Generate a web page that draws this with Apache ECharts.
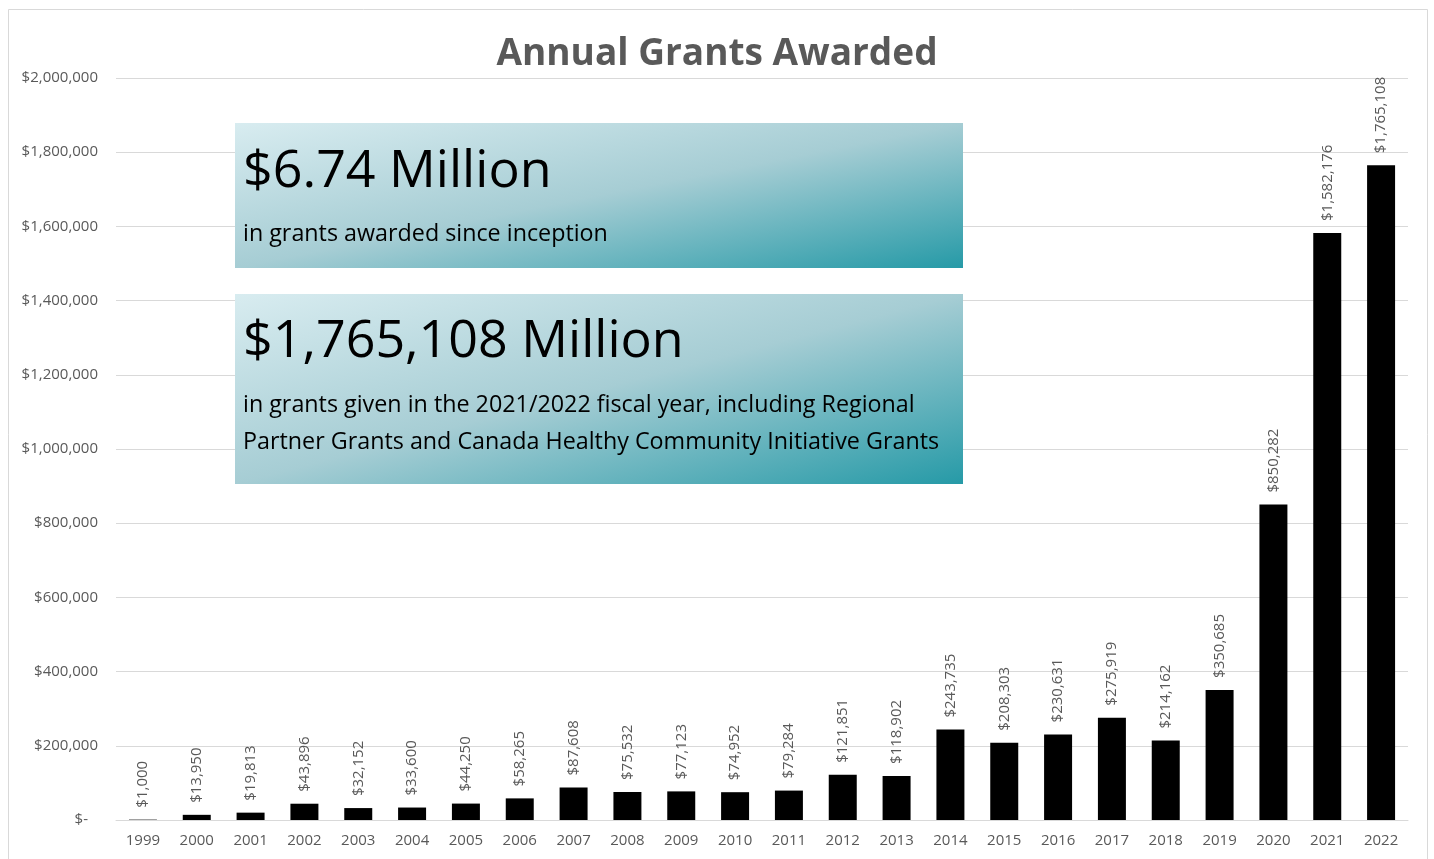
<!DOCTYPE html>
<html>
<head>
<meta charset="utf-8">
<script src="https://cdn.jsdelivr.net/npm/echarts@6/dist/echarts.min.js"></script>
<style>
html,body{margin:0;padding:0;background:#fff;}
#chart{width:1434px;height:859px;}
</style>
</head>
<body>
<div id="chart"></div>
<script>
const categories = ['1999','2000','2001','2002','2003','2004','2005','2006','2007','2008','2009','2010','2011','2012','2013','2014','2015','2016','2017','2018','2019','2020','2021','2022'];
const grants = [1000,13950,19813,43896,32152,33600,44250,58265,87608,75532,77123,74952,79284,121851,118902,243735,208303,230631,275919,214162,350685,850282,1582176,1765108];
const yTicks = [0,200000,400000,600000,800000,1000000,1200000,1400000,1600000,1800000,2000000];

const FONT = '"Open Sans", "Noto Sans", sans-serif';
const chart = echarts.init(document.getElementById('chart'));

function money(v){ return '$' + v.toLocaleString('en-US'); }

// diagonal gradient whose iso-lines run parallel to the box's anti-diagonal
function boxGrad(x, y, w, h){
  const f = 2 * w * h / (w * w + h * h);
  return {
    type: 'linear', global: true,
    x: x, y: y, x2: x + f * h, y2: y + f * w,
    colorStops: [
      {offset: 0, color: '#d8ecf0'},
      {offset: 0.5, color: '#a6cdd4'},
      {offset: 1, color: '#269aa7'}
    ]
  };
}

chart.setOption({
  backgroundColor: '#fff',
  animation: false,
  title: {
    text: 'Annual Grants Awarded',
    left: 'center',
    top: 31,
    textStyle: {fontFamily: FONT, fontSize: 37, fontWeight: 'bold', color: '#595959'}
  },
  grid: {left: 116, right: 26, top: 78, bottom: 39, containLabel: false},
  xAxis: {
    type: 'category',
    data: categories,
    axisLine: {lineStyle: {color: '#d9d9d9'}},
    axisTick: {show: false},
    axisLabel: {color: '#595959', fontFamily: FONT, fontSize: 15, margin: 13}
  },
  yAxis: {
    type: 'value',
    min: 0, max: 2000000, interval: 200000,
    axisLine: {show: false},
    axisTick: {show: false},
    splitLine: {lineStyle: {color: '#d9d9d9'}},
    axisLabel: {
      color: '#595959', fontFamily: FONT, fontSize: 15, margin: 18,
      formatter: function(v){ return v === 0 ? '{z|$-}' : money(v); },
      rich: {z: {color: '#595959', fontFamily: FONT, fontSize: 15, padding: [0, 10, 0, 0]}}
    }
  },
  series: [{
    type: 'bar',
    data: grants,
    barWidth: '52%',
    itemStyle: {color: '#000'},
    label: {
      show: true,
      position: 'top',
      rotate: 90,
      align: 'left',
      verticalAlign: 'middle',
      distance: 12,
      color: '#595959',
      fontFamily: FONT,
      fontSize: 15,
      formatter: function(p){ return money(p.value); }
    }
  }],
  graphic: [
    {type: 'rect', z: 0, silent: true, shape: {x: 8.5, y: 9.5, width: 1419, height: 860}, style: {fill: 'none', stroke: '#d9d9d9', lineWidth: 1}},
    {type: 'rect', z: 100, shape: {x: 235, y: 123, width: 728, height: 145}, style: {fill: boxGrad(235, 123, 728, 145)}},
    {type: 'text', z: 101, left: 243, top: 146, style: {text: '$6.74 Million', font: '52px ' + FONT, fill: '#000'}},
    {type: 'text', z: 101, left: 243, top: 223, style: {text: 'in grants awarded since inception', font: '23.3px ' + FONT, fill: '#000'}},
    {type: 'rect', z: 100, shape: {x: 235, y: 294, width: 728, height: 190}, style: {fill: boxGrad(235, 294, 728, 190)}},
    {type: 'text', z: 101, left: 243, top: 316, style: {text: '$1,765,108 Million', font: '52px ' + FONT, fill: '#000'}},
    {type: 'text', z: 101, left: 243, top: 394, style: {text: 'in grants given in the 2021/2022 fiscal year, including Regional', font: '23.3px ' + FONT, fill: '#000'}},
    {type: 'text', z: 101, left: 243, top: 431, style: {text: 'Partner Grants and Canada Healthy Community Initiative Grants', font: '23.3px ' + FONT, fill: '#000'}}
  ]
});
</script>
</body>
</html>
